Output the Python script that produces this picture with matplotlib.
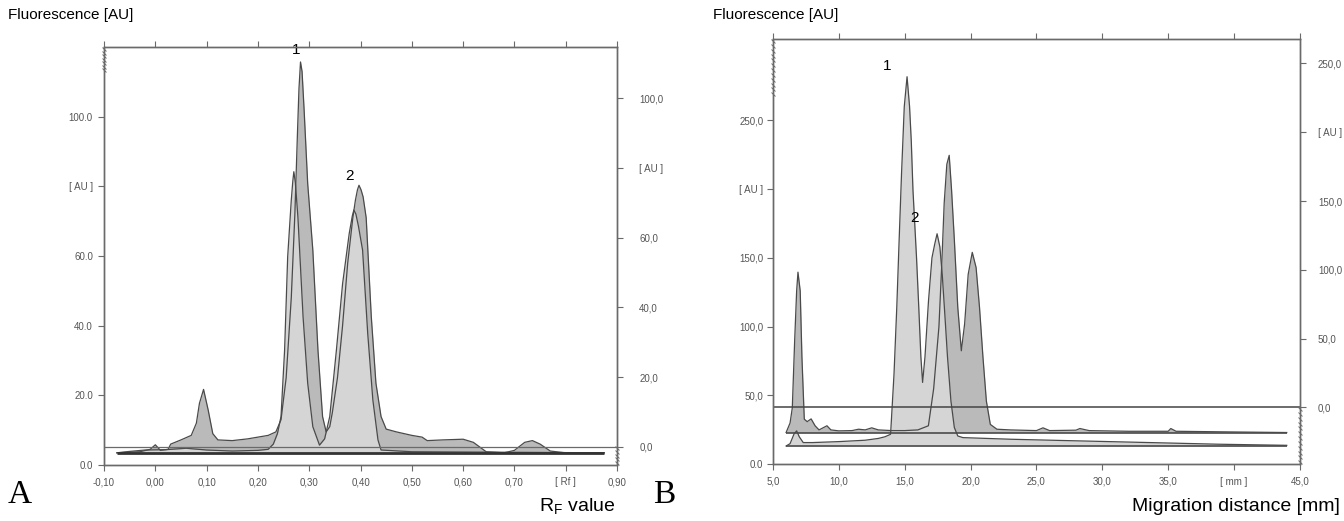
import numpy as np
import matplotlib
matplotlib.use("Agg")
import matplotlib.pyplot as plt

plt.rcParams['font.family'] = ['Liberation Sans', 'DejaVu Sans']

# ---- panel A: Rf value vs fluorescence (left-axis units) ----
a_dark_x = [-0.075, -0.03, -0.01, 0.00, 0.01, 0.025, 0.03, 0.05, 0.07, 0.08, 0.086,
            0.094, 0.103, 0.112, 0.122, 0.15, 0.18, 0.20, 0.22, 0.235, 0.245, 0.255,
            0.265, 0.272, 0.277, 0.28, 0.283, 0.286, 0.29, 0.297, 0.307, 0.317, 0.326,
            0.333, 0.34, 0.345, 0.355, 0.365, 0.375, 0.385, 0.39, 0.394, 0.397, 0.401,
            0.405, 0.411, 0.421, 0.43, 0.44, 0.45, 0.47, 0.50, 0.52, 0.53, 0.56, 0.60,
            0.62, 0.645, 0.68, 0.70, 0.72, 0.735, 0.75, 0.77, 0.80, 0.875]
a_dark_y = [3.5, 3.8, 4.5, 5.8, 4.2, 4.5, 6.0, 7.2, 8.5, 12, 17.7,
            21.7, 15.8, 9, 7.2, 7.0, 7.5, 8.0, 8.5, 9.5, 13, 25,
            48, 72, 95, 108, 115.7, 113, 102, 80.8, 61.7, 33, 13.9,
            9.5, 11, 15, 25, 40, 58, 71, 76, 79, 80.3, 79,
            77, 71, 42.5, 23.5, 13.9, 10.3, 9.5, 8.5, 8.0, 7.0, 7.2, 7.4,
            6.5, 3.8, 3.5, 4.2, 6.5, 7.0, 6.0, 4.0, 3.5, 3.5]

a_light_x = [-0.075, -0.05, -0.02, 0.02, 0.06, 0.10, 0.15, 0.20, 0.22, 0.23, 0.238,
             0.245, 0.252, 0.258, 0.265, 0.268, 0.27, 0.273, 0.278, 0.288, 0.297, 0.307,
             0.32, 0.33, 0.34, 0.353, 0.365, 0.378, 0.384, 0.387, 0.391, 0.396, 0.404,
             0.414, 0.424, 0.434, 0.44, 0.50, 0.875]
a_light_y = [3.5, 3.9, 4.3, 4.4, 4.8, 4.3, 4.0, 4.2, 4.5, 6, 9,
             13.9, 33, 59.8, 76, 81.5, 84.2, 81, 71, 42.5, 23.5, 11,
             5.7, 7.5, 13.9, 33, 52, 66.5, 71.5, 73.2, 72, 68.5, 61.7,
             37.8, 18.7, 7.2, 4.3, 3.8, 3.5]

a_base = 3.5
a_zero_line = 5.25
a_xticks = [-0.10, 0.00, 0.10, 0.20, 0.30, 0.40, 0.50, 0.60, 0.70, 0.80, 0.90]
a_xlabels = ['-0,10', '0,00', '0,10', '0,20', '0,30', '0,40', '0,50', '0,60', '0,70', '[ Rf ]', '0,90']
a_lticks = [0, 20, 40, 60, 80, 100]
a_llabels = ['0.0', '20.0', '40.0', '60.0', '[ AU ]', '100.0']
a_rticks = [0, 20, 40, 60, 80, 100]
a_rlabels = ['0,0', '20,0', '40,0', '60,0', '[ AU ]', '100,0']

# ---- panel B: migration distance vs fluorescence ----
b_dark_x = [6.0, 6.3, 6.47, 6.65, 6.8, 6.9, 7.07, 7.2, 7.38, 7.6, 7.9, 8.2, 8.5, 8.8,
            9.1, 9.4, 10.0, 11.0, 11.5, 12.0, 12.5, 13.0, 14.0, 15.0, 16.0, 16.8, 17.2,
            17.6, 17.8, 18.0, 18.2, 18.38, 18.56, 18.77, 19.03, 19.3, 19.55, 19.82,
            20.13, 20.42, 20.68, 20.94, 21.2, 21.5, 22.0, 23.0, 25.0, 25.5, 26.0, 28.0,
            28.3, 29.0, 32.0, 35.0, 35.2, 35.6, 40.0, 44.0]
b_dark_y = [23.1, 30, 41, 90, 126, 139.6, 126, 78, 32.8, 31, 33, 28, 25, 26.5,
            28, 25, 24.3, 24.5, 25.5, 25, 26.5, 25, 24.5, 24.5, 25, 28, 55,
            100, 142, 190, 218, 224.5, 199, 163, 114, 82.5, 102, 138,
            154, 143, 114, 78, 46, 29, 25.5, 25, 24.5, 26.5, 24.5, 24.8,
            26, 24.5, 24, 24, 26, 24, 23.5, 23.1]

b_light_x = [6.0, 6.3, 6.6, 6.8, 7.0, 7.3, 8.0, 10.0, 12.0, 13.0, 13.5, 13.93, 14.19,
             14.4, 14.58, 14.76, 14.97, 15.18, 15.37, 15.5, 15.63, 15.9, 16.07, 16.23,
             16.36, 16.54, 16.81, 17.07, 17.28, 17.46, 17.67, 17.85, 18.06, 18.25,
             18.51, 18.77, 19.03, 19.42, 23.1, 28.3, 33.6, 38.8, 44.0]
b_light_y = [13.3, 15, 22, 24.3, 20, 15.8, 15.8, 16.5, 17.5, 18.8, 20, 21.8, 65.5,
             114, 163, 211, 260, 281.6, 260, 235, 199, 150, 114, 78,
             59.5, 78, 119, 150, 160, 167.5, 158, 138, 107, 78,
             46, 26.7, 20.6, 19.4, 18.2, 17, 15.8, 14.6, 13.8]

b_base_dark = 23.1
b_base_light = 13.3
b_zero_line = 41.3
b_xticks = [5, 10, 15, 20, 25, 30, 35, 40, 45]
b_xlabels = ['5,0', '10,0', '15,0', '20,0', '25,0', '30,0', '35,0', '[ mm ]', '45,0']
b_lticks = [0, 50, 100, 150, 200, 250]
b_llabels = ['0.0', '50,0', '100,0', '150,0', '[ AU ]', '250,0']
b_rticks = [0, 50, 100, 150, 200, 250]
b_rlabels = ['0,0', '50,0', '100,0', '150,0', '[ AU ]', '250,0']

DARK = '#bababa'
LIGHT = '#d5d5d5'
EDGE = '#4a4a4a'
AXC = '#6a6a6a'
TXT = '#555555'


def style_axes(ax):
    for s in ax.spines.values():
        s.set_color(AXC)
        s.set_linewidth(1.0)
    ax.tick_params(axis='both', colors=AXC, labelcolor=TXT, labelsize=7, length=4, width=0.8)


def hatch(ax, x, y0, y1, n):
    # broken-axis hash marks along a spine
    ys = np.linspace(y0, y1, n)
    ax.plot(np.full(n, x), ys, ls='none', marker=(2, 0, 45), ms=4, mew=0.7,
            color=AXC, transform=ax.transAxes, clip_on=False)


fig = plt.figure(figsize=(13.44, 5.21), dpi=100)

# ---------------- A ----------------
axA = fig.add_axes([0.0774, 0.1075, 0.3817, 0.8023])
axA.set_xlim(-0.10, 0.90)
axA.set_ylim(0, 120)
axA.fill_between(a_dark_x, a_dark_y, a_base, color=DARK, lw=0)
axA.plot(a_dark_x, a_dark_y, color=EDGE, lw=0.9)
axA.fill_between(a_light_x, a_light_y, a_base, color=LIGHT, lw=0)
axA.plot(a_light_x, a_light_y, color=EDGE, lw=0.9)
axA.axhline(a_zero_line, color=AXC, lw=0.9)
axA.hlines(a_base, a_dark_x[0], a_dark_x[-1], color='#333333', lw=2.0)
axA.text(0.275, 117, '1', fontsize=11, ha='center', va='bottom')
axA.text(0.378, 81, '2', fontsize=11, ha='center', va='bottom')
axA.set_xticks(a_xticks)
axA.set_xticklabels(a_xlabels)
axA.set_yticks(a_lticks)
axA.set_yticklabels(a_llabels)
axA.tick_params(top=True, labeltop=False)
style_axes(axA)
axA.tick_params(axis='x', pad=5)
axA.tick_params(axis='y', pad=4)

axA2 = axA.twinx()
axA2.set_ylim(-a_zero_line, 120 - a_zero_line)
axA2.set_yticks(a_rticks)
axA2.set_yticklabels(a_rlabels)
style_axes(axA2)
axA2.tick_params(axis='y', pad=12)
hatch(axA, 0.0, 0.945, 0.995, 7)
hatch(axA, 1.0, 0.005, 0.04, 5)

# ---------------- B ----------------
axB = fig.add_axes([0.5751, 0.1088, 0.3921, 0.8163])
axB.set_xlim(5, 45)
axB.set_ylim(0, 309)
axB.fill_between(b_dark_x, b_dark_y, b_base_dark, color=DARK, lw=0)
axB.plot(b_dark_x, b_dark_y, color=EDGE, lw=0.9)
axB.fill_between(b_light_x, b_light_y, b_base_light, color=LIGHT, lw=0)
axB.plot(b_light_x, b_light_y, color=EDGE, lw=0.9)
axB.hlines([b_base_dark, b_base_light], 6.0, 44.0, color=EDGE, lw=1.2)
axB.axhline(b_zero_line, color='#444444', lw=1.1)
axB.text(13.67, 284, '1', fontsize=11, ha='center', va='bottom')
axB.text(15.76, 174, '2', fontsize=11, ha='center', va='bottom')
axB.set_xticks(b_xticks)
axB.set_xticklabels(b_xlabels)
axB.set_yticks(b_lticks)
axB.set_yticklabels(b_llabels)
axB.tick_params(top=True, labeltop=False)
style_axes(axB)
axB.tick_params(axis='x', pad=5)
axB.tick_params(axis='y', pad=3)

axB2 = axB.twinx()
axB2.set_ylim(-b_zero_line, 309 - b_zero_line)
axB2.set_yticks(b_rticks)
axB2.set_yticklabels(b_rlabels)
style_axes(axB2)
axB2.tick_params(axis='y', pad=9)
hatch(axB, 0.0, 0.87, 0.995, 12)
hatch(axB, 1.0, 0.005, 0.13, 12)

# ---------------- figure texts ----------------
fig.text(0.006, 0.971, 'Fluorescence [AU]', fontsize=11, va='center')
fig.text(0.5305, 0.971, 'Fluorescence [AU]', fontsize=11, va='center')
fig.text(0.006, 0.05, 'A', fontsize=24, family='Liberation Serif', va='center')
fig.text(0.486, 0.05, 'B', fontsize=24, family='Liberation Serif', va='center')
fig.text(0.4576, 0.027, 'R$_\\mathregular{F}$ value', fontsize=14, ha='right', va='center')
fig.text(0.997, 0.027, 'Migration distance [mm]', fontsize=14, ha='right', va='center')

fig.savefig('out.png', dpi=100, facecolor='white')
